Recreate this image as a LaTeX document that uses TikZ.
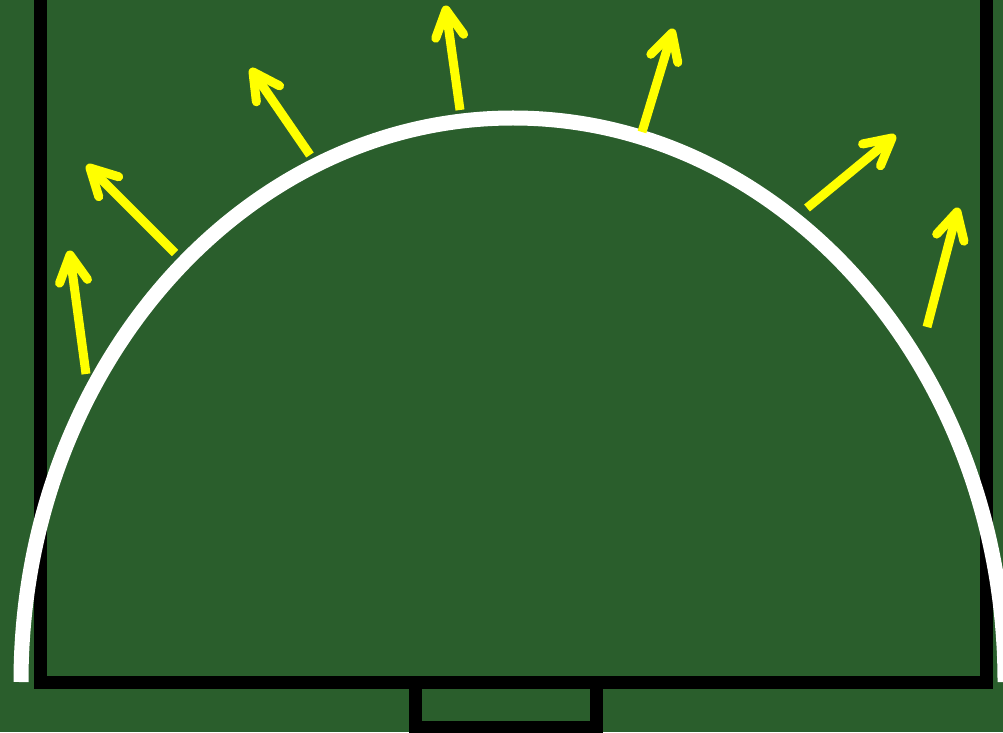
\documentclass[tikz,border=0pt]{standalone}
\usetikzlibrary{calc}
\definecolor{turf}{RGB}{42,94,44}
\definecolor{arrowyellow}{RGB}{255,255,0}
\tikzset{
  fieldline/.style={line width=13pt, black, line join=miter},
  arcline/.style={line width=15pt, white},
  yshaft/.style={line width=9pt, arrowyellow, line cap=butt},
  yhead/.style={line width=9pt, arrowyellow, line cap=round, line join=round},
}
\newcommand\yarrow[2]{%
  \draw[yshaft] (#1) -- (#2);
  \draw[yhead] ($(#2)!30pt!28:(#1)$) -- (#2) -- ($(#2)!30pt!-28:(#1)$);
}
\begin{document}
\begin{tikzpicture}[x=1pt,y=1pt]
  \useasboundingbox (0,0) rectangle (1003,732);
  \fill[turf] (0,0) rectangle (1003,732);
  \begin{scope}
    \clip (0,0) rectangle (1003,732);
    % field lines
    \coordinate (tl) at (40.5,745);
    \coordinate (bl) at (40.5,50);
    \coordinate (br) at (986,50);
    \coordinate (tr) at (986,745);
    \draw[fieldline] (tl) -- (bl) -- (br) -- (tr);
    \coordinate (gl) at (415.5,50);
    \coordinate (glb) at (415.5,4.5);
    \coordinate (grb) at (596,4.5);
    \coordinate (gr) at (596,50);
    \draw[fieldline] (gl) -- (glb) -- (grb) -- (gr);
    % white arc
    \coordinate (arcstart) at (21,50);
    \draw[arcline] (arcstart) arc[start angle=180, end angle=0, x radius=492pt, y radius=564pt];
    % arrows
    \coordinate (b1) at (86,358);  \coordinate (t1) at (70,477);
    \coordinate (b2) at (175,479); \coordinate (t2) at (90,564);
    \coordinate (b3) at (310,577); \coordinate (t3) at (253,660);
    \coordinate (b4) at (460,622); \coordinate (t4) at (446,722);
    \coordinate (b5) at (642,600); \coordinate (t5) at (672,699);
    \coordinate (b6) at (807,524); \coordinate (t6) at (892,594);
    \coordinate (b7) at (927,405); \coordinate (t7) at (957,520);
    \yarrow{b1}{t1}
    \yarrow{b2}{t2}
    \yarrow{b3}{t3}
    \yarrow{b4}{t4}
    \yarrow{b5}{t5}
    \yarrow{b6}{t6}
    \yarrow{b7}{t7}
  \end{scope}
\end{tikzpicture}
\end{document}
